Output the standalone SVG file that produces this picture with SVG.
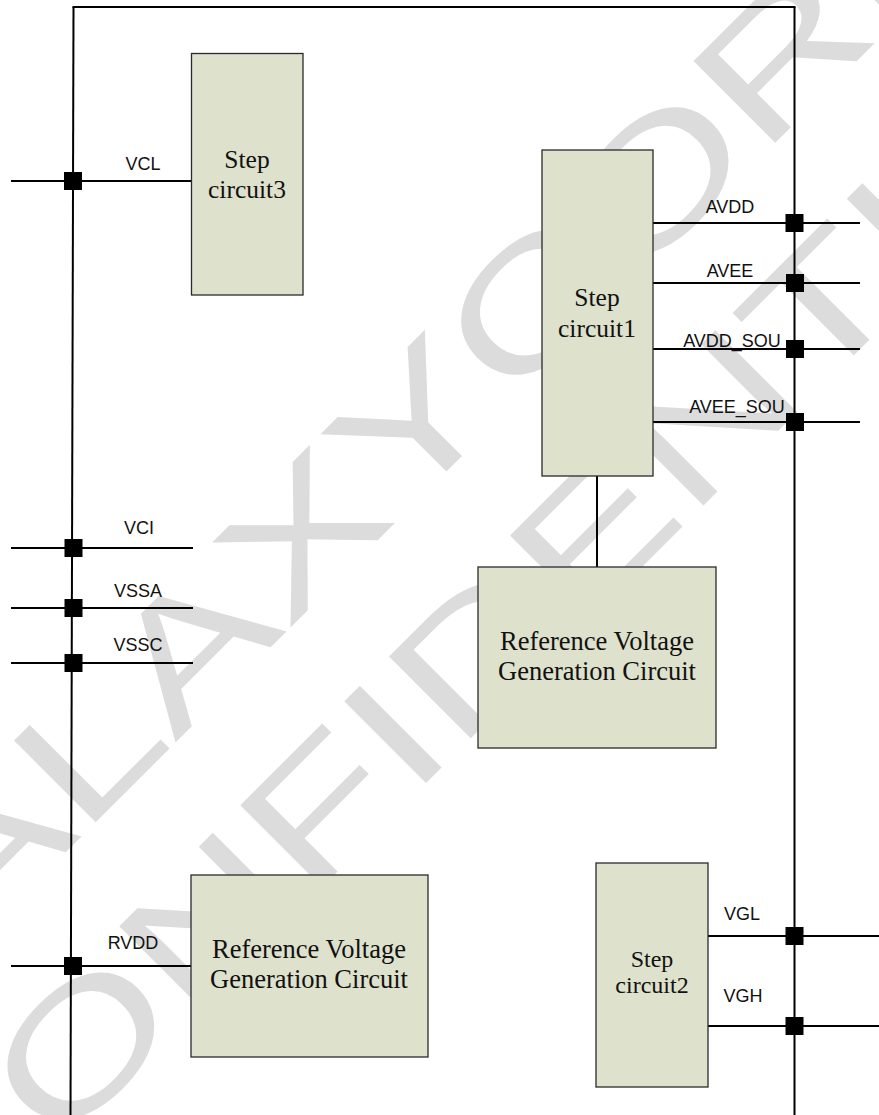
<svg xmlns="http://www.w3.org/2000/svg" width="879" height="1115" viewBox="0 0 879 1115">
<defs>
<style>
.wm{font-family:"Liberation Sans",Arial,sans-serif;font-size:168px;fill:#dcdcdc}
.box{fill:#dee1cc;stroke:#2a2a2a;stroke-width:1.3}
.bt{font-family:"Liberation Serif","Times New Roman",serif;font-size:25.5px;fill:#111;text-anchor:middle}
.bs{font-family:"Liberation Serif","Times New Roman",serif;font-size:24px;fill:#111;text-anchor:middle}
.rt{font-family:"Liberation Serif","Times New Roman",serif;font-size:26.5px;fill:#111;text-anchor:middle}
.lbl{font-family:"Liberation Sans",Arial,sans-serif;font-size:18px;fill:#111;text-anchor:middle}
.w{stroke:#000;stroke-width:2;fill:none}
.j{fill:#000}
</style>
<linearGradient id="bg" x1="0" y1="0" x2="1" y2="0">
<stop offset="0" stop-color="#ddd"/>
<stop offset="0.5" stop-color="#000"/>
<stop offset="1" stop-color="#ddd"/>
</linearGradient>
</defs>
<rect width="879" height="1115" fill="#fff"/>
<g id="watermark">
<text class="wm" transform="translate(-160,1078) rotate(-45) scale(1.41,1)">GALAXYCORE</text>
<text class="wm" transform="translate(-64,1273) rotate(-45) scale(1.41,1)">CONFIDENTIAL</text>
</g>
<g id="connectors">
<line class="w" x1="73.5" y1="7" x2="70.5" y2="1115"/>
<line class="w" x1="72.5" y1="7" x2="795.5" y2="7"/>
<line class="w" x1="794.5" y1="7" x2="794.5" y2="1115"/>
<line class="w" x1="11" y1="181" x2="191" y2="181"/>
<line class="w" x1="11" y1="548" x2="193" y2="548"/>
<line class="w" x1="11" y1="608" x2="193" y2="608"/>
<line class="w" x1="11" y1="663" x2="193" y2="663"/>
<line class="w" x1="11" y1="966" x2="191" y2="966"/>
<line class="w" x1="653" y1="223" x2="860" y2="223"/>
<line class="w" x1="653" y1="283" x2="860" y2="283"/>
<line class="w" x1="653" y1="349" x2="860" y2="349"/>
<line class="w" x1="653" y1="422" x2="860" y2="422"/>
<line class="w" x1="708" y1="936" x2="879" y2="936"/>
<line class="w" x1="708" y1="1026" x2="879" y2="1026"/>
<line class="w" x1="597" y1="476" x2="597" y2="567"/>
<rect class="j" x="64" y="172" width="18" height="18"/>
<rect class="j" x="64.5" y="539" width="18" height="18"/>
<rect class="j" x="64.5" y="599" width="18" height="18"/>
<rect class="j" x="64.5" y="654" width="18" height="18"/>
<rect class="j" x="64" y="957" width="18" height="18"/>
<rect class="j" x="785.5" y="214" width="18" height="18"/>
<rect class="j" x="786" y="274" width="18" height="18"/>
<rect class="j" x="786" y="340" width="18" height="18"/>
<rect class="j" x="786" y="413" width="18" height="18"/>
<rect class="j" x="785.5" y="927" width="18" height="18"/>
<rect class="j" x="785.5" y="1017" width="18" height="18"/>
<text class="lbl" x="143" y="170">VCL</text>
<text class="lbl" x="139" y="534">VCI</text>
<text class="lbl" x="138" y="597">VSSA</text>
<text class="lbl" x="138" y="651">VSSC</text>
<text class="lbl" x="133" y="949">RVDD</text>
<text class="lbl" x="730" y="213">AVDD</text>
<text class="lbl" x="730" y="277">AVEE</text>
<text class="lbl" x="732" y="347">AVDD_SOU</text>
<text class="lbl" x="737" y="413">AVEE_SOU</text>
<text class="lbl" x="742" y="920">VGL</text>
<text class="lbl" x="743" y="1002">VGH</text>
<line x1="250" y1="1114" x2="617" y2="1114" stroke="url(#bg)" stroke-width="1.5"/>
</g>
<g id="step3">
<rect class="box" x="191.5" y="53.5" width="111.5" height="241.5"/>
<text class="bt" x="247" y="168">Step</text>
<text class="bt" x="247" y="198">circuit3</text>
</g>
<g id="step1">
<rect class="box" x="542" y="150" width="111" height="326"/>
<text class="bt" x="597" y="306">Step</text>
<text class="bt" x="597" y="337">circuit1</text>
</g>
<g id="ref1">
<rect class="box" x="478" y="567" width="238" height="181"/>
<text class="rt" x="597" y="650">Reference Voltage</text>
<text class="rt" x="597" y="680">Generation Circuit</text>
</g>
<g id="ref2">
<rect class="box" x="191" y="875" width="237" height="182"/>
<text class="rt" x="309" y="958">Reference Voltage</text>
<text class="rt" x="309" y="988">Generation Circuit</text>
</g>
<g id="step2">
<rect class="box" x="596" y="863" width="112" height="224"/>
<text class="bs" x="652" y="967">Step</text>
<text class="bs" x="652" y="993">circuit2</text>
</g>
</svg>
